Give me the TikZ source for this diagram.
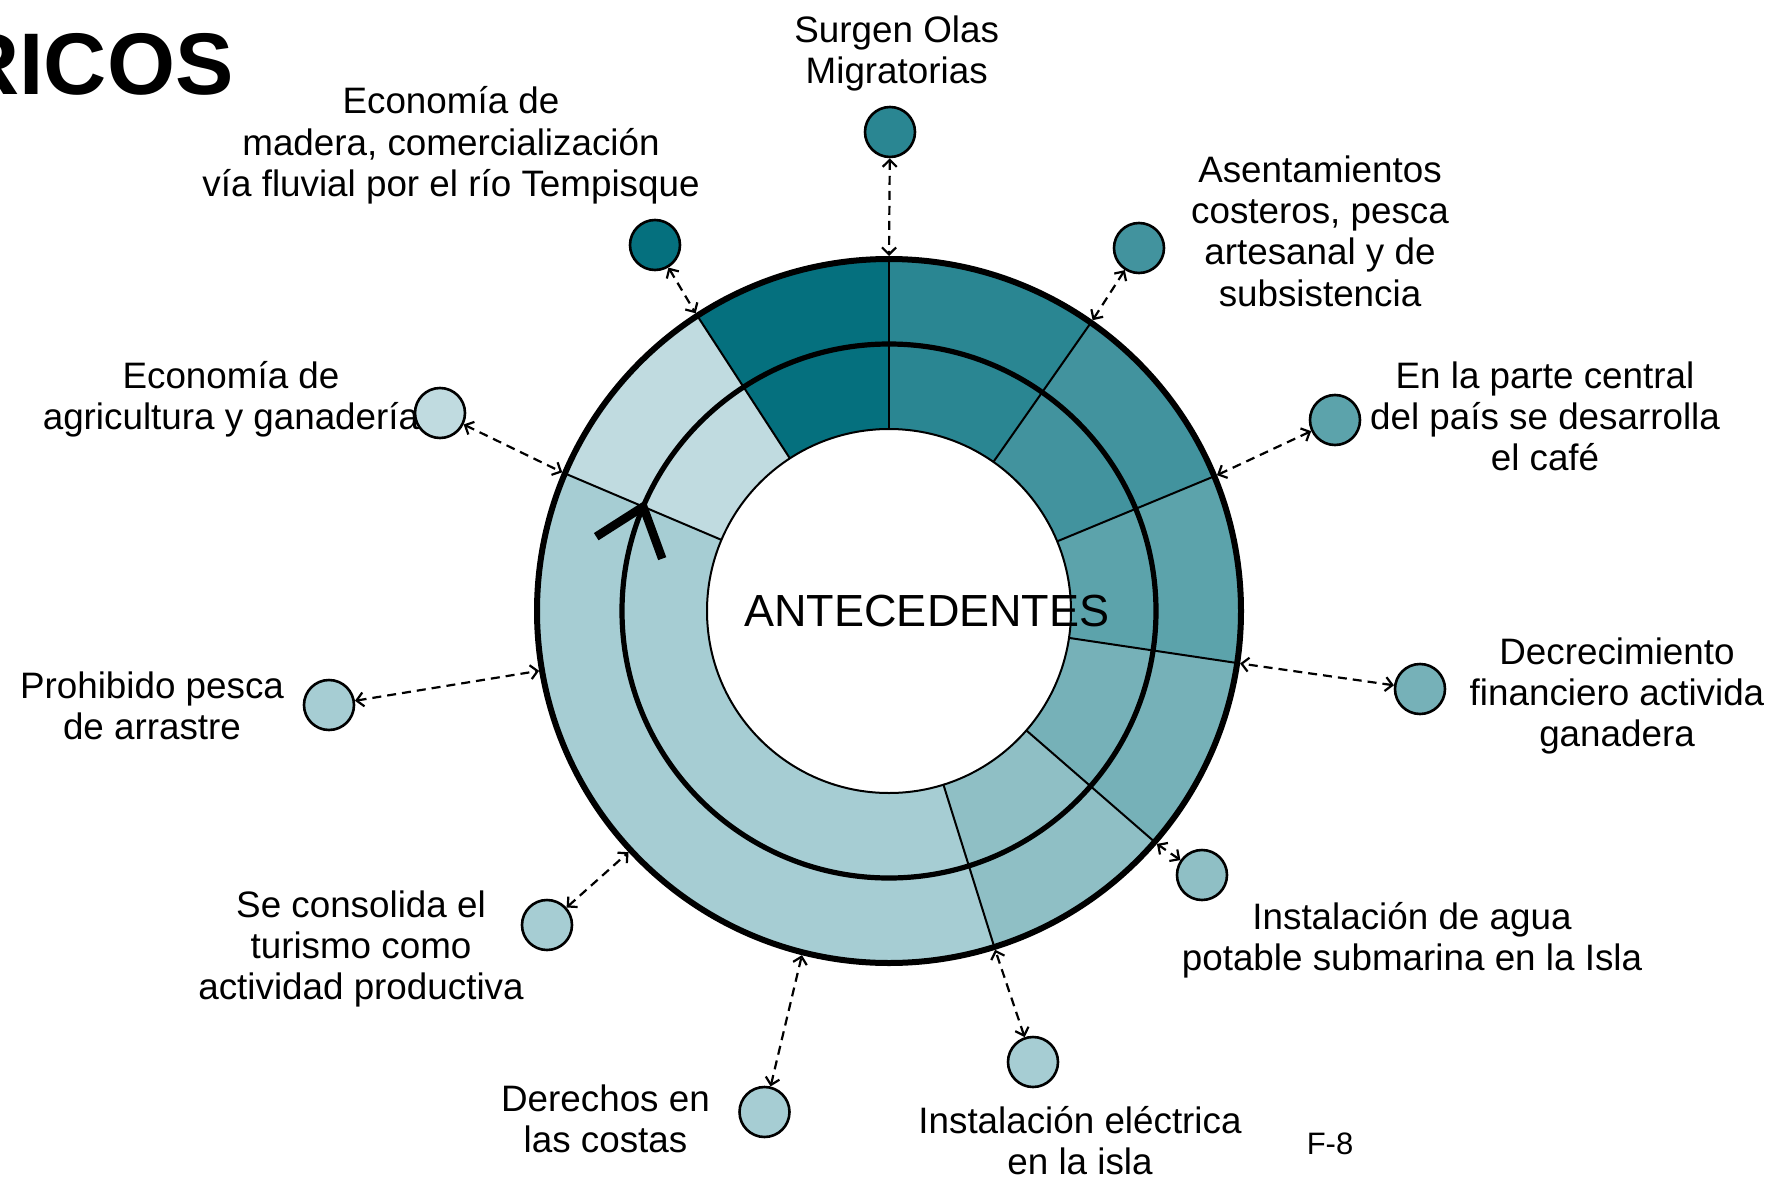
\documentclass[tikz,border=0pt]{standalone}
\usepackage{fontspec}
\setmainfont{Liberation Sans}
\usetikzlibrary{arrows.meta}
\definecolor{tealA}{HTML}{05707E}
\definecolor{tealB}{HTML}{2A8692}
\definecolor{tealC}{HTML}{42939E}
\definecolor{tealD}{HTML}{5CA3AB}
\definecolor{tealE}{HTML}{76B1B8}
\definecolor{tealF}{HTML}{8FBFC5}
\definecolor{tealG}{HTML}{A6CDD3}
\definecolor{tealH}{HTML}{C0DBE0}
\begin{document}
\begin{tikzpicture}
[x=0.5pt,y=0.5pt,
  dotdecorate/.style={shape=circle,draw,line width=1.3pt,minimum size=25pt,inner sep=0pt},%
  textdecorate/.style={align=center,anchor=north,inner sep=0pt,font=\fontsize{18.4}{20.6}\selectfont},%
  linkdecorate/.style={{Straight Barb[length=3.5pt,width=7pt]}-{Straight Barb[length=3.5pt,width=7pt]},dash pattern=on 4.5pt off 3pt,line width=1.1pt}]
\useasboundingbox (0,0) rectangle (1768,-1178);
% ring
\begin{scope}[shift={(889,-611)}]
\foreach \a/\b/\col in {90/123/tealA,55/90/tealB,22.5/55/tealC,-8.5/22.5/tealD,-41/-8.5/tealE,-72.6/-41/tealF,157/287.4/tealG,123/157/tealH}
  \fill[\col] (\a:352) arc[start angle=\a,end angle=\b,radius=352] -- (\b:182) arc[start angle=\b,end angle=\a,radius=182] -- cycle;
\foreach \a in {90,123,157,55,22.5,-8.5,-41,-72.6}
  \draw[line width=1pt] (\a:182) -- (\a:352);
\draw[line width=1pt] (0,0) circle[radius=182];
\draw[line width=2.6pt] (0,0) circle[radius=267];
\draw[line width=3pt] (0,0) circle[radius=352];
% points on the rim
\coordinate (rOlas) at (90:355);
\coordinate (rMadera) at (123:355);
\coordinate (rAsent) at (55:355);
\coordinate (rCentral) at (22.5:355);
\coordinate (rDecrec) at (-8.5:355);
\coordinate (rAgua) at (-41:355);
\coordinate (rElec) at (-72.6:355);
\coordinate (rDerechos) at (255.8:355);
\coordinate (rTurismo) at (222.8:355);
\coordinate (rPesca) at (189.7:355);
\coordinate (rAgri) at (157:355);
\coordinate (tip) at (157:267);
\end{scope}
\draw[line width=4.3pt] (tip) ++(-47,-30) -- (tip) -- ++(19,-52);
\node (centro) at (927,-611.5) [inner sep=0pt,font=\fontsize{22.5}{26}\selectfont] {ANTECEDENTES};
% dots
\node (olas) at (890,-132) [dotdecorate,fill=tealB] {};
\node (madera) at (655,-245) [dotdecorate,fill=tealA] {};
\node (asent) at (1139,-248) [dotdecorate,fill=tealC] {};
\node (central) at (1335,-420) [dotdecorate,fill=tealD] {};
\node (decrec) at (1420,-689) [dotdecorate,fill=tealE] {};
\node (agua) at (1202,-875) [dotdecorate,fill=tealF] {};
\node (elec) at (1033,-1062) [dotdecorate,fill=tealG] {};
\node (derechos) at (764.5,-1112) [dotdecorate,fill=tealG] {};
\node (turismo) at (547,-925) [dotdecorate,fill=tealG] {};
\node (pesca) at (329,-705) [dotdecorate,fill=tealG] {};
\node (agri) at (440,-413) [dotdecorate,fill=tealH] {};
% labels
\node (olasText) at (896.7,-15) [textdecorate] {Surgen Olas\\Migratorias};
\node (maderaText) at (451,-86.5) [textdecorate] {Economía de\\madera, comercialización\\vía fluvial por el río Tempisque};
\node (asentText) at (1320,-155.5) [textdecorate] {Asentamientos\\costeros, pesca\\artesanal y de\\subsistencia};
\node (centralText) at (1545,-361.5) [textdecorate] {En la parte central\\del país se desarrolla\\el café};
\node (decrecText) at (1617,-637.5) [textdecorate] {Decrecimiento\\financiero activida\\ganadera};
\node (aguaText) at (1412,-901.5) [textdecorate] {Instalación de agua\\potable submarina en la Isla};
\node (elecText) at (1080,-1105.5) [textdecorate] {Instalación eléctrica\\en la isla};
\node (derechosText) at (605.5,-1084.5) [textdecorate] {Derechos en\\las costas};
\node (turismoText) at (361,-890.5) [textdecorate] {Se consolida el\\turismo como\\actividad productiva};
\node (pescaText) at (152,-671.5) [textdecorate] {Prohibido pesca\\de arrastre};
\node (agriText) at (231,-360.5) [textdecorate] {Economía de\\agricultura y ganadería};
\node (titulo) at (234,-94) [anchor=base east,inner sep=0pt,font=\fontsize{43.75}{50}\selectfont\bfseries] {RICOS};
\node (hoja) at (1330,-1154) [anchor=base,inner sep=0pt,font=\fontsize{15.5}{18}\selectfont] {F-8};
% links
\path
(olas) edge[linkdecorate] (rOlas)
(madera) edge[linkdecorate] (rMadera)
(asent) edge[linkdecorate] (rAsent)
(central) edge[linkdecorate] (rCentral)
(decrec) edge[linkdecorate] (rDecrec)
(agua) edge[linkdecorate] (rAgua)
(elec) edge[linkdecorate] (rElec)
(derechos) edge[linkdecorate] (rDerechos)
(turismo) edge[linkdecorate] (rTurismo)
(pesca) edge[linkdecorate] (rPesca)
(agri) edge[linkdecorate] (rAgri);
\end{tikzpicture}
\end{document}
